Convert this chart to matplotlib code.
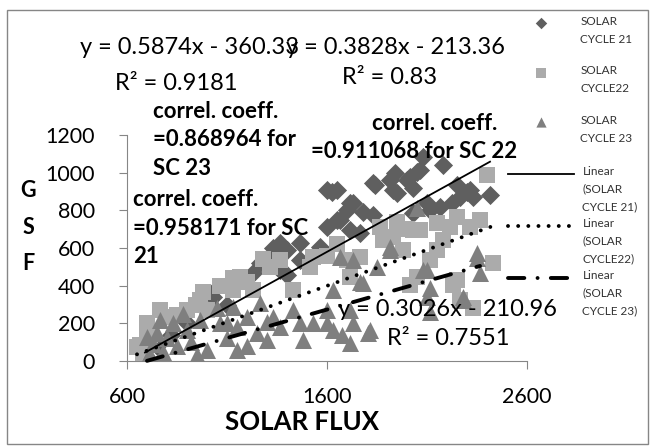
import numpy as np
import matplotlib
matplotlib.use("Agg")
import matplotlib.pyplot as plt
from matplotlib.patches import Rectangle
from matplotlib.legend_handler import HandlerLine2D

plt.rcParams['font.family'] = ['Lato', 'DejaVu Sans']

# solar cycle 21 (diamonds)
sc21_x = [690, 750, 820, 900, 1015, 1030, 1100, 1230, 1265, 1330, 1330, 1365, 1400, 1400,
          1365, 1465, 1465, 1565, 1600, 1600, 1625, 1650, 1650, 1665, 1700, 1715, 1715, 1730,
          1765, 1780, 1830, 1830, 1840, 1915, 1930, 1940, 1950, 2000, 2015, 2030, 2030, 2050,
          2065, 2080, 2100, 2165, 2180, 2225, 2250, 2265, 2300, 2315, 2330, 2115, 2415]
sc21_y = [30, 80, 140, 200, 360, 340, 300, 467, 520, 573, 600, 627, 589, 457,
          483, 536, 627, 605, 712, 908, 897, 908, 749, 749, 802, 839, 696, 839,
          680, 791, 775, 945, 935, 961, 908, 998, 892, 961, 977, 919, 786, 1004,
          1014, 1083, 839, 818, 1041, 839, 935, 871, 897, 908, 871, 802, 880]

# solar cycle 22 (squares)
sc22_x = [650, 680, 700, 700, 715, 665, 765, 815, 850, 900, 945, 965, 980, 1000, 1065,
          1130, 1130, 1165, 1200, 1230, 1280, 1315, 1365, 1430, 1515, 1530, 1600, 1650, 1700,
          1715, 1765, 1865, 1880, 1930, 1950, 1980, 2000, 2015, 2030, 2050, 2065, 2115, 2150,
          2150, 2180, 2215, 2230, 2250, 2250, 2265, 2315, 2330, 2365, 2400, 2430]
sc22_y = [74, 40, 127, 202, 138, 85, 271, 234, 244, 271, 297, 324, 366, 271, 400,
          377, 441, 446, 420, 377, 540, 499, 536, 377, 499, 552, 560, 620, 536,
          446, 552, 712, 642, 658, 740, 589, 700, 404, 696, 446, 696, 536, 589,
          733, 642, 712, 404, 765, 430, 324, 712, 281, 750, 988, 520]

# solar cycle 23 (triangles)
sc23_x = [700, 710, 720, 700, 730, 750, 765, 780, 800, 830, 850, 880, 900, 920, 950,
          965, 1000, 1050, 1065, 1100, 1100, 1130, 1150, 1150, 1200, 1200, 1250, 1265, 1300,
          1300, 1330, 1365, 1430, 1465, 1480, 1530, 1600, 1600, 1630, 1630, 1665, 1675, 1715,
          1715, 1730, 1730, 1765, 1780, 1805, 1815, 1850, 1915, 1915, 2050, 2080, 2100, 2100,
          2115, 2115, 2280, 2280, 2350, 2350, 2365]
sc23_y = [10, 30, 20, 127, 90, 150, 218, 50, 120, 200, 80, 250, 165, 100, 30,
          218, 60, 281, 202, 120, 200, 287, 60, 180, 234, 80, 150, 308, 112,
          207, 234, 181, 271, 202, 112, 202, 271, 202, 377, 165, 552, 138, 271,
          96, 536, 202, 419, 414, 149, 165, 499, 605, 589, 812, 483, 483, 340,
          388, 260, 340, 324, 573, 547, 467]

# linear trendlines (slope, intercept)
fit21 = (0.5874, -360.33)
fit22 = (0.3828, -213.36)
fit23 = (0.3026, -210.96)

W, H = 655, 448
fig = plt.figure(figsize=(W / 100, H / 100), dpi=100)
ax = fig.add_axes([127 / W, 1 - 361 / H, 400 / W, 226 / H])

def fx(px):
    return px / W

def fy(py):
    return 1 - py / H

# chart border
fig.patches.append(Rectangle((fx(7), fy(444)), fx(641), 434 / H, transform=fig.transFigure,
                             fill=False, edgecolor='#868686', linewidth=1.0))

s21 = ax.scatter(sc21_x, sc21_y, marker='D', s=95, color='#5f5f5f', linewidths=0, zorder=2)
s22 = ax.scatter(sc22_x, sc22_y, marker='s', s=135, color='#ababab', linewidths=0, zorder=3)
s23 = ax.scatter(sc23_x, sc23_y, marker='^', s=150, color='#7f7f7f', linewidths=0, zorder=4)

def trend(xs, fit):
    x = np.array([min(xs), max(xs)])
    return x, fit[0] * x + fit[1]

x, y = trend(sc21_x, fit21)
l21, = ax.plot(x, y, color='black', lw=1.3, zorder=5, clip_on=False)
x, y = trend(sc22_x, fit22)
l22, = ax.plot(x, y, color='black', lw=2.8, linestyle=(0, (0.01, 2.6)),
               dash_capstyle='round', zorder=5, clip_on=False)
x, y = trend(sc23_x, fit23)
l23, = ax.plot(x, y, color='black', lw=2.8, linestyle=(0, (4.2, 3.4, 0.01, 3.4)),
               dash_capstyle='round', zorder=5, clip_on=False)

ax.set_xlim(600, 2600)
ax.set_ylim(0, 1200)
ax.set_xticks([600, 1600, 2600])
ax.set_yticks(np.arange(0, 1201, 200))
for side in ['top', 'right']:
    ax.spines[side].set_visible(False)
for side in ['left', 'bottom']:
    ax.spines[side].set_color('#868686')
ax.tick_params(axis='both', direction='out', length=6, width=0.8, color='#868686',
               labelsize=15.5, labelcolor='black')
ax.tick_params(axis='y', pad=17)
ax.tick_params(axis='x', pad=13)

ax.set_xlabel('SOLAR FLUX', fontsize=18.5, fontweight='bold')
ax.xaxis.set_label_coords((302 - 127) / 400, -(422 - 361) / 226)
ax.xaxis.label.set_va('center')
fig.text(fx(28), fy(227), 'G\nS\nF', fontsize=15.5, fontweight='bold',
         ha='center', va='center', linespacing=1.9)

# trendline equations
eq = dict(fontsize=17, ha='center', va='center')
fig.text(fx(190), fy(48), 'y = 0.5874x - 360.33', **eq)
fig.text(fx(176), fy(84), 'R² = 0.9181', **eq)
fig.text(fx(396), fy(47), 'y = 0.3828x - 213.36', **eq)
fig.text(fx(390), fy(77), 'R² = 0.83', **eq)
fig.text(fx(448), fy(310), 'y = 0.3026x - 210.96', **eq)
fig.text(fx(448), fy(338), 'R² = 0.7551', **eq)

# correlation notes
note = dict(fontsize=16, fontweight='bold', va='center', linespacing=1.47)
fig.text(fx(153), fy(140), 'correl. coeff.\n=0.868964 for\nSC 23', ha='left', **note)
fig.text(fx(435), fy(124), 'correl. coeff.', ha='center', **note)
fig.text(fx(414), fy(152), '=0.911068 for SC 22', ha='center', **note)
fig.text(fx(133), fy(228), 'correl. coeff.\n=0.958171 for SC\n21', ha='left', **note)


class FirstLineHandler(HandlerLine2D):
    # put the line sample level with the first text line, as Excel does
    def create_artists(self, legend, orig_handle, xdescent, ydescent, width, height,
                       fontsize, trans):
        arts = super().create_artists(legend, orig_handle, xdescent, ydescent, width,
                                      height, fontsize, trans)
        for a in arts:
            a.set_ydata(np.asarray(a.get_ydata()) + 1.3 * fontsize)
        return arts


leg1 = ax.legend([s21, s22, s23], ['SOLAR\nCYCLE 21', 'SOLAR\nCYCLE22', 'SOLAR\nCYCLE 23'],
                 loc='upper left', bbox_to_anchor=(fx(532), fy(16)),
                 bbox_transform=fig.transFigure, frameon=False, fontsize=8.5,
                 handlelength=1.5, handletextpad=2.6, labelspacing=1.75,
                 borderpad=0, borderaxespad=0, scatterpoints=1, scatteryoffsets=[1.4],
                 markerscale=0.6, labelcolor='#333333')
for t in leg1.get_texts():
    t.set_linespacing(1.75)
ax.add_artist(leg1)
leg2 = ax.legend([l21, l22, l23],
                 ['Linear\n(SOLAR\nCYCLE 21)', 'Linear\n(SOLAR\nCYCLE22)', 'Linear\n(SOLAR\nCYCLE 23)'],
                 loc='upper left', bbox_to_anchor=(fx(508), fy(166)),
                 bbox_transform=fig.transFigure, frameon=False, fontsize=8.5,
                 handlelength=5.6, handletextpad=0.7, labelspacing=0.45,
                 borderpad=0, borderaxespad=0, labelcolor='#333333',
                 handler_map={l21: FirstLineHandler(), l22: FirstLineHandler(),
                              l23: FirstLineHandler()})
for t in leg2.get_texts():
    t.set_linespacing(1.75)

fig.savefig('out.png', dpi=100)
